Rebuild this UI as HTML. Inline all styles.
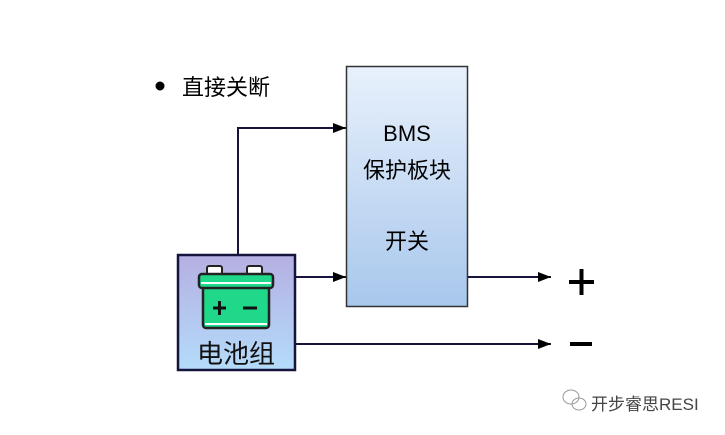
<!DOCTYPE html>
<html><head><meta charset="utf-8"><style>
body{margin:0;background:#fff;width:725px;height:435px;overflow:hidden;font-family:"Liberation Sans","Noto Sans CJK SC",sans-serif}
</style></head><body>
<svg width="725" height="435" xmlns="http://www.w3.org/2000/svg" style="position:absolute;left:0;top:0">
<defs>
<linearGradient id="b" x1="0" y1="0" x2="0" y2="1"><stop offset="0" stop-color="#e8f1fc"/><stop offset="1" stop-color="#a8c7ec"/></linearGradient>
<linearGradient id="p" x1="0" y1="0" x2="0" y2="1"><stop offset="0" stop-color="#b5b0e2"/><stop offset="1" stop-color="#b4dbfa"/></linearGradient>
<marker id="a" markerWidth="13" markerHeight="10" refX="13" refY="5" orient="auto" markerUnits="userSpaceOnUse"><path d="M0,0 L13,5 L0,10 z" fill="#000"/></marker>
</defs>
<circle cx="160" cy="86" r="4.5" fill="#000"/>
<text x="182" y="95" font-size="22" fill="#000">直接关断</text>
<rect x="346.5" y="66.5" width="121" height="240" fill="url(#b)" stroke="#333" stroke-width="1.5"/>
<text x="407" y="141" font-size="22" text-anchor="middle">BMS</text>
<text x="407" y="178" font-size="22" text-anchor="middle">保护板块</text>
<text x="407" y="249" font-size="22" text-anchor="middle">开关</text>
<g stroke="#14143c" stroke-width="2" fill="none">
<polyline points="238,254 238,128 346,128" marker-end="url(#a)"/>
<line x1="296" y1="277" x2="346" y2="277" marker-end="url(#a)"/>
<line x1="468" y1="277" x2="551" y2="277" marker-end="url(#a)"/>
<line x1="296" y1="344" x2="551" y2="344" marker-end="url(#a)"/>
</g>
<rect x="178" y="255" width="117" height="115" fill="url(#p)" stroke="#14143c" stroke-width="2.5"/>
<rect x="207" y="266" width="15" height="9" rx="2" fill="#fff" stroke="#222" stroke-width="2"/>
<rect x="247" y="266" width="15" height="9" rx="2" fill="#fff" stroke="#222" stroke-width="2"/>
<rect x="203" y="284" width="66" height="44" rx="3" fill="#1fd88a" stroke="#222" stroke-width="2.5"/>
<rect x="199" y="274" width="74" height="14" rx="3" fill="#1fd88a" stroke="#222" stroke-width="2.5"/>
<line x1="201" y1="283" x2="271" y2="283" stroke="#fff" stroke-width="2"/>
<line x1="205" y1="324" x2="267" y2="324" stroke="#fff" stroke-width="2"/>
<g stroke="#111" stroke-width="3"><line x1="213" y1="308" x2="226" y2="308"/><line x1="219.5" y1="301" x2="219.5" y2="315"/><line x1="243" y1="308" x2="257" y2="308"/></g>
<text x="236" y="363" font-size="26" text-anchor="middle" fill="#111">电池组</text>
<g stroke="#000" stroke-width="4"><line x1="569" y1="282" x2="594" y2="282"/><line x1="581.5" y1="269" x2="581.5" y2="295"/><line x1="570" y1="344" x2="592" y2="344"/></g>
<g fill="none" stroke="#999" stroke-width="1"><ellipse cx="571" cy="397" rx="8" ry="7"/><ellipse cx="579" cy="404" rx="7" ry="6"/></g>
<text x="591" y="410" font-size="17" fill="#444">开步睿思RESI</text>
</svg>
</body></html>
